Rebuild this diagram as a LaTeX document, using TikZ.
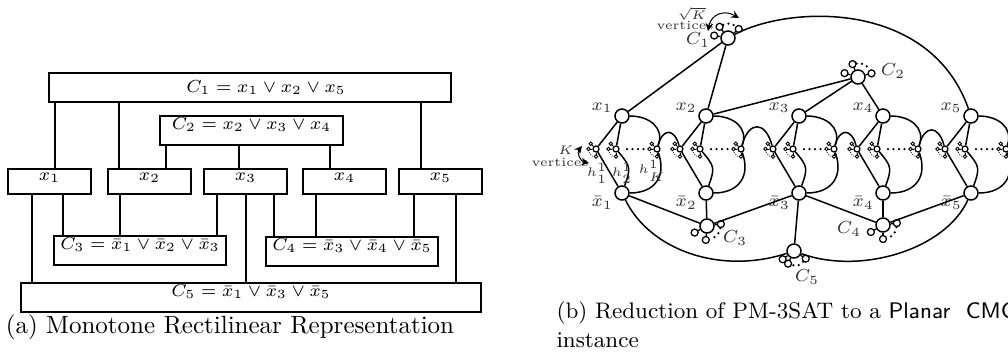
\documentclass[tikz,border=0pt]{standalone}
\usetikzlibrary{fit,calc}
\tikzset{
  box/.style={draw, line width=0.8pt, inner sep=0pt, font=\scriptsize},
  wire/.style={line width=0.8pt},
  link/.style={line width=0.6pt},
  var/.style={circle, draw, fill=white, line width=0.6pt, minimum size=5.6pt, inner sep=0pt},
  cleaf/.style={circle, draw, fill=white, line width=0.5pt, minimum size=2.8pt, inner sep=0pt},
  hvert/.style={circle, draw, fill=white, line width=0.5pt, minimum size=2.4pt, inner sep=0pt},
  hleaf/.style={circle, draw, fill=white, line width=0.35pt, minimum size=1.4pt, inner sep=0pt},
  lbl/.style={font=\scriptsize, inner sep=0.5pt, text=black!80},
  bigdots/.style={line width=1pt, line cap=round, dash pattern=on 0pt off 2.2pt},
  smalldots/.style={line width=0.45pt, line cap=round, dash pattern=on 0pt off 0.9pt},
}
\begin{document}
\begin{tikzpicture}[x=0.4pt, y=-0.4pt]
  \useasboundingbox (0,0) rectangle (1008,355);
  \clip (0,0) rectangle (1008,355);

  % (a) rectilinear drawing
  \node[box, fit={(49,73) (451,102)}, label={[font=\scriptsize, xshift=6.4pt]center:$C_1 = x_1 \vee x_2 \vee x_5$}] (c1) {};
  \node[box, fit={(160,116) (343,145)}] (c2) {$C_2 = x_2 \vee x_3 \vee x_4$};
  \node[box, fit={(54,236) (226,265)}] (c3) {$C_3 = \bar{x}_1 \vee \bar{x}_2 \vee \bar{x}_3$};
  \node[box, fit={(266,237) (438,266)}] (c4) {$C_4 = \bar{x}_3 \vee \bar{x}_4 \vee \bar{x}_5$};
  \node[box, fit={(21,283) (481,312)}] (c5) {$C_5 = \bar{x}_1 \vee \bar{x}_3 \vee \bar{x}_5$};
  \foreach \i/\l in {1/8,2/108,3/204,4/303,5/399}
    \node[box, fit={(\l,169) (\l+83,194)}] (x\i) {$x_\i$\hspace{3pt}};

  \foreach \p/\a/\b in {55/c1/x1, 119/c1/x2, 421/c1/x5, 166/c2/x2, 239/c2/x3, 330/c2/x4,
                        32/x1/c5, 63/x1/c3, 120/x2/c3, 217/x3/c3, 246/x3/c5, 274/x3/c4,
                        316/x4/c4, 414/x5/c4, 456/x5/c5}
    \draw[wire] (\p,0 |- \a.south) -- (\p,0 |- \b.north);

  \node (capa) at (230,327) {(a) Monotone Rectilinear Representation};

  % (b) reduction
  \foreach \i/\X in {1/622,2/706,3/799,4/883,5/971} {
    \node[var, label={[lbl]167:$x_\i$}] (v\i) at (\X,116) {};
    \node[var, label={[lbl]195:$\bar{x}_\i$}] (vb\i) at (\X,193) {};
    \foreach \j/\dx in {1/-26,2/-6,K/35} {
      \node[hvert] (h\i-\j) at (\X+\dx,149) {};
      \foreach \ang in {135,180,270}
        \draw[line width=0.35pt] (h\i-\j) -- ($(h\i-\j)+(\ang:3pt)$) node[hleaf] {};
      \draw[smalldots] ($(h\i-\j)+(208:3pt)$) -- ($(h\i-\j)+(245:3.3pt)$);
    }
    \draw[link] (v\i) -- (h\i-1);
    \draw[link] (v\i) -- (h\i-2);
    \draw[link] (h\i-1) -- (vb\i);
    \draw[link] (h\i-2) to[out=-50, in=70, looseness=1.4] (vb\i);
    \draw[link] (v\i) to[out=0, in=70, looseness=1.2] (h\i-K);
    \draw[link] (h\i-K) to[out=-70, in=0, looseness=1.3] (vb\i);
    \draw[bigdots] ($(h\i-2)+(11,0)$) -- ($(h\i-K)+(-8,0)$);
  }
  \foreach \i [evaluate=\i as \nxt using int(\i+1)] in {1,...,4}
    \draw[link] (h\i-K) to[out=75, in=105, looseness=2.2] (h\nxt-1);

  \foreach \c/\pos/\a/\b/\d in {1/{728,38}/170/127/40, 2/{858,77}/164/113/15,
                                3/{707,226}/208/8/265, 4/{883,225}/210/8/270,
                                5/{794,251}/216/327/245} {
    \node[var] (k\c) at (\pos) {};
    \foreach \ang [count=\m] in {\a,\b,\d}
      \draw[line width=0.5pt] (k\c) -- ($(k\c)+(\ang:5.6pt)$) node[cleaf] (k\c-\m) {};
    \draw[bigdots] (k\c-2) to[bend left=35] (k\c-3);
  }

  \foreach \a/\b in {k1/v1, k1/v2, k2/v2, k2/v3, k2/v4, k3/vb1, k3/vb2, k3/vb3,
                     k4/vb3, k4/vb4, k4/vb5, k5/vb3}
    \draw[link] (\a) -- (\b);
  \draw[link] (k1) .. controls (790,5) and (930,0) .. (v5);
  \draw[link] (vb1) .. controls (650,250) and (720,275) .. (k5);
  \draw[link] (vb5) .. controls (945,250) and (860,275) .. (k5);

  \node[lbl] (lc1) at (698,40) {$C_1$};
  \node[lbl] (lc2) at (893,71) {$C_2$};
  \node[lbl] (lc3) at (735,238) {$C_3$};
  \node[lbl] (lc4) at (849,229) {$C_4$};
  \node[lbl] (lc5) at (807,277) {$C_5$};
  \node[lbl, font=\tiny] (lh1) at (597,173) {$h^1_1$};
  \node[lbl, font=\tiny] (lh2) at (622,173) {$h^1_2$};
  \node[lbl, font=\tiny] (lhk) at (652,171) {$h^1_K$};

  \node[lbl, font=\tiny] (sqk) at (692,14) {$\sqrt{K}$};
  \node[lbl, font=\tiny] (sqv) at (685,25) {vertices};
  \coordinate (sqa) at (708,31);
  \coordinate (sqb) at (739,18);
  \draw[<->, line width=0.4pt, >=stealth] (sqa) to[out=80, in=150, looseness=1.3] (sqb);

  \node[lbl, font=\tiny] (kk) at (566,150) {$K$};
  \node[lbl, font=\tiny] (kv) at (560,162) {vertices};
  \coordinate (ka) at (582,146);
  \coordinate (kb) at (589,163);
  \draw[<->, line width=0.4pt, >=stealth] (ka) to[out=230, in=170, looseness=1.2] (kb);

  \node[anchor=west, inner sep=0pt, font=\fontsize{9}{11}\selectfont] (capb) at (556,313) {(b) Reduction of PM-3SAT to a \textsf{Planar}\ \ \textsf{CMC}};
  \node[anchor=west, inner sep=0pt, font=\fontsize{9}{11}\selectfont] (capb2) at (556,340) {instance};
\end{tikzpicture}
\end{document}
